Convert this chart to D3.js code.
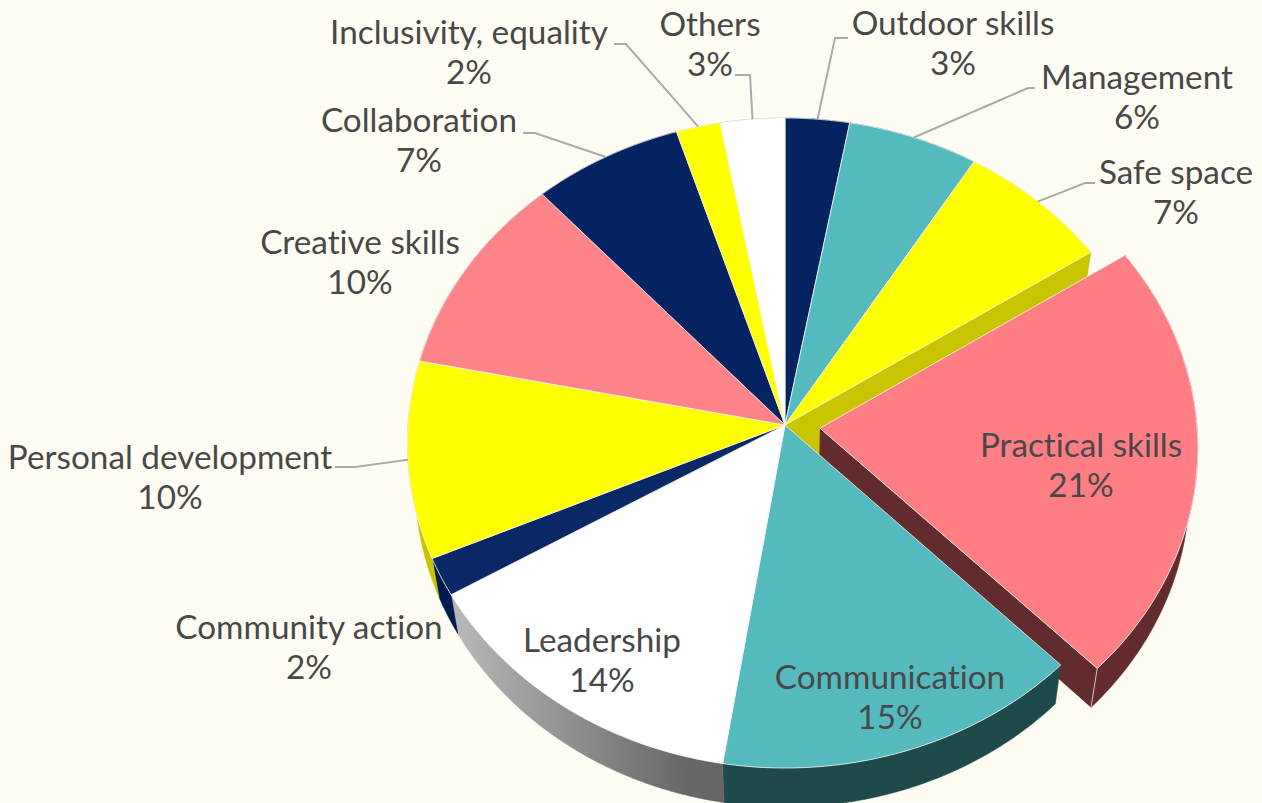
<!DOCTYPE html>
<html>
<head>
<meta charset="utf-8">
<script src="https://cdn.jsdelivr.net/npm/d3@7"></script>
<style>
  html, body { margin: 0; padding: 0; background: #fffdf3; overflow: hidden; }
  svg { display: block; }
  text { font-family: Lato, sans-serif; font-size: 33.3px; fill: #484848; text-anchor: middle; font-variant-ligatures: none; }
</style>
</head>
<body>
<svg width="1262" height="803"></svg>
<script>
// values, clockwise from 12 o'clock
const categories = ["Outdoor skills", "Management", "Safe space", "Practical skills", "Communication", "Leadership",
                    "Community action", "Personal development", "Creative skills", "Collaboration", "Inclusivity, equality", "Others"];
const shares = [2.9, 5.9, 6.95, 21.85, 14.9, 14.0, 1.9, 9.8, 10.1, 6.8, 2.0, 2.9];
const percentLabels = ["3%", "6%", "7%", "21%", "15%", "14%", "2%", "10%", "10%", "7%", "2%", "3%"];

const sliceColors = ["#062361", "#55babd", "#ffff00", "#ff7e83", "#55babd", "#ffffff",
                     "#0a2766", "#ffff00", "#ff8489", "#062361", "#ffff00", "#ffffff"];
const wallColors = ["#001440", "#1f4a4b", "#c8c400", "#622b2e", "#1f4a4b", "url(#leadWall)",
                    "#001a50", "#c8c400", "#622b2e", "#001440", "#c8c400", "#808080"];

// label centres [x, y of first line], and the elbow of the leader if there is one
const labelPos = [[953, 35], [1137, 89], [1176, 184], [1081, 457], [890, 689], [602, 652],
                  [309, 639], [170, 469], [360, 254], [419, 132], [469, 44], [710, 36]];
const leaderElbow = [[[848, 38], [835, 38]], [[1035, 88], [1028, 88]], [[1095, 183], [1085, 183]], null, null, null,
                     null, [[335, 467], [355, 467]], null, [[523, 133], [535, 133]], [[614, 44], [626, 44]], [[735, 75], [750, 75]]];

const explodedIndex = 3;
const explode = 0.093;

const svg = d3.select("svg");

// tilted disc with a little perspective
const cx = 785, cy = 425, rx = 377, ry = 324, persp = 0.0554;
const depth = 39, lowerScale = 0.98;

const top3d = (a, r, off) => {
    const u = r * Math.sin(a) + off[0];
    const v = -r * Math.cos(a) + off[1];
    const k = 1 - persp * v;
    return [cx + rx * u / k, cy + ry * v / k];
};
const lower = p => [cx + (p[0] - cx) * lowerScale, p[1] + depth];

const pie = d3.pie().sort(null).value(d => d);
const arcs = pie(shares);

const arcPoints = (d, off) => {
    const n = Math.max(2, Math.ceil((d.endAngle - d.startAngle) / 0.01));
    return d3.range(n + 1).map(i => top3d(d.startAngle + (d.endAngle - d.startAngle) * i / n, 1, off));
};
const offsetOf = (d, i) => {
    if (i !== explodedIndex) return [0, 0];
    const mid = (d.startAngle + d.endAngle) / 2;
    return [explode * Math.sin(mid), -explode * Math.cos(mid)];
};

const line = d3.line();
const closed = pts => line(pts) + "Z";

const grad = svg.append("defs").append("linearGradient")
    .attr("id", "leadWall").attr("gradientUnits", "userSpaceOnUse")
    .attr("x1", 455).attr("x2", 725).attr("y1", 0).attr("y2", 0);
grad.append("stop").attr("offset", 0).attr("stop-color", "#b8b8b8");
grad.append("stop").attr("offset", 0.85).attr("stop-color", "#686868");
grad.append("stop").attr("offset", 1).attr("stop-color", "#666666");

const drawWall = (d, i) => {
    const off = offsetOf(d, i);
    const pts = arcPoints(d, off);
    svg.append("path")
        .attr("d", closed(pts.concat(pts.map(lower).reverse())))
        .attr("fill", wallColors[i])
        .attr("stroke", wallColors[i]).attr("stroke-width", 0.5);
};
const drawTop = (d, i) => {
    const off = offsetOf(d, i);
    const apex = top3d(0, 0, off);
    svg.append("path")
        .attr("d", closed([apex].concat(arcPoints(d, off))))
        .attr("fill", sliceColors[i])
        .attr("stroke", "#f4f4f0").attr("stroke-width", 0.8).attr("stroke-linejoin", "round");
};

// back to front: slices behind the exploded one, what it uncovers, the slice, then the rest
const ex = arcs[explodedIndex];
const exOff = offsetOf(ex, explodedIndex);
const exApex = top3d(0, 0, exOff);

arcs.forEach((d, i) => { if (i < explodedIndex || i > 7) drawWall(d, i); });

const safeEdge = top3d(ex.startAngle, 1, [0, 0]);
svg.append("path")
    .attr("d", closed([top3d(0, 0, [0, 0]), safeEdge, lower(safeEdge), lower(exApex)]))
    .attr("fill", "#c8c400");

const exCorner = top3d(ex.endAngle, 1, exOff);
svg.append("path")
    .attr("d", closed([exApex, exCorner, lower(exCorner), lower(exApex)]))
    .attr("fill", "#622b2e");
drawWall(ex, explodedIndex);
svg.append("path").attr("d", line([exCorner, lower(exCorner)]))
    .attr("stroke", "#c9c0c0").attr("stroke-width", 1).attr("fill", "none");
drawTop(ex, explodedIndex);

arcs.forEach((d, i) => { if (i > explodedIndex && i <= 7) drawWall(d, i); });
arcs.forEach((d, i) => { if (i !== explodedIndex) drawTop(d, i); });

// leaders
leaderElbow.forEach((elbow, i) => {
    if (!elbow) return;
    const d = arcs[i];
    const end = top3d((d.startAngle + d.endAngle) / 2, 1, offsetOf(d, i));
    svg.append("path")
        .attr("d", line(elbow.concat([end])))
        .attr("fill", "none").attr("stroke", "#aaaaaa").attr("stroke-width", 2);
});

// labels
categories.forEach((name, i) => {
    const t = svg.append("text").attr("x", labelPos[i][0]).attr("y", labelPos[i][1]);
    t.append("tspan").attr("x", labelPos[i][0]).text(name);
    t.append("tspan").attr("x", labelPos[i][0]).attr("dy", 40).text(percentLabels[i]);
});
</script>
</body>
</html>
